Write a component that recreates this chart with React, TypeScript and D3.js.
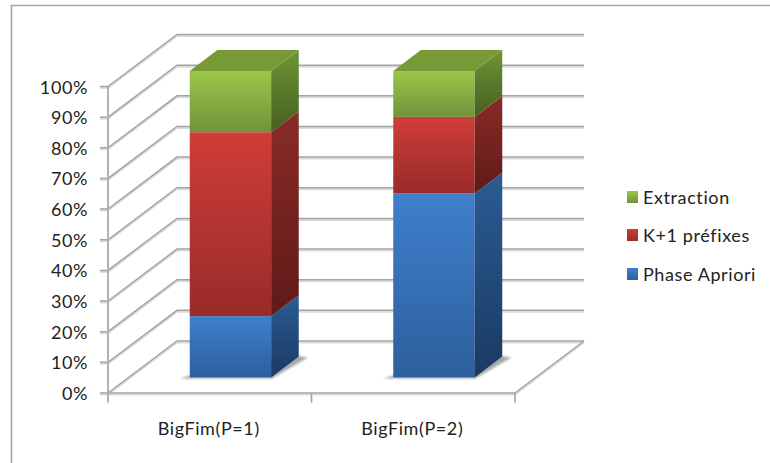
import React from "react";
import * as d3 from "d3";

const categories = ["BigFim(P=1)", "BigFim(P=2)"];
const seriesNames = ["Phase Apriori", "K+1 préfixes", "Extraction"];
const phaseApriori = [20, 60];
const prefixes = [60, 25];
const extraction = [20, 15];
const yTicks = [0, 10, 20, 30, 40, 50, 60, 70, 80, 90, 100];

const width = 770;
const height = 463;
const font = "Lato, 'Noto Sans', sans-serif";
const gridColor = "#a4a4a4";
const gridHalo = "#dcdcdc";

// Oblique projection: depth runs from the front plane (0) to the back wall (1).
const depthX = 69;
const depthY = 52;
const x = d3.scaleBand<string>().domain(categories).range([108, 515]).paddingInner(0.6).paddingOuter(0.3);
const y = d3.scaleLinear().domain([0, 100]).range([393, 86.5]);
const px = (v: number, depth: number) => v + depth * depthX;
const py = (pct: number, depth: number) => y(pct) - depth * depthY;

const barFront = 0.3;
const barBack = 0.7;

const faces = [
  { id: "apriori", front: ["#3f7fcd", "#2d5f9d"], side: ["#2a5c93", "#1a3a62"] },
  { id: "prefix", front: ["#d03d38", "#982b29"], side: ["#8a2b27", "#5f1a18"] },
  { id: "extract", front: ["#9cc64a", "#72933a"], side: ["#6e9436", "#465f21"] },
];
const topColor = "#779a37";

const stacks = categories.map((_, i) => {
  const a = phaseApriori[i];
  const b = a + prefixes[i];
  const c = b + extraction[i];
  return [
    [0, a],
    [a, b],
    [b, c],
  ];
});

const poly = (pts: [number, number][]) => d3.line()(pts) + "Z";

function GridLine({ d }: { d: string }) {
  return (
    <g fill="none">
      <path d={d} stroke={gridHalo} strokeWidth={2} transform="translate(0,1.5)" />
      <path d={d} stroke={gridColor} strokeWidth={1.5} />
    </g>
  );
}

function Bar({ name, index }: { name: string; index: number }) {
  const x0 = px(x(name)!, barFront);
  const x1 = x0 + x.bandwidth();
  const x2 = x1 + (barBack - barFront) * depthX;
  const rise = (barBack - barFront) * depthY;
  const segs = stacks[index];
  const top = segs[segs.length - 1][1];
  const yTop = py(top, barFront);
  const yBase = py(0, barFront);
  return (
    <g>
      <path
        d={poly([
          [x0 - 10, yBase + 1],
          [x1 + 1, yBase + 1],
          [x2 + 9, yBase - rise + 1],
          [x2 - 4, yBase - rise - 1],
          [x0, yBase - 2],
        ])}
        fill="#8a8a8a"
        opacity={0.75}
        filter="url(#soft)"
      />
      {segs.map(([lo, hi], s) => {
        const yLo = py(lo, barFront);
        const yHi = py(hi, barFront);
        return (
          <g key={s}>
            <rect x={x0} y={yHi} width={x1 - x0} height={yLo - yHi} fill={`url(#front-${faces[s].id})`} />
            <path
              d={poly([
                [x1, yHi],
                [x2, yHi - rise],
                [x2, yLo - rise],
                [x1, yLo],
              ])}
              fill={`url(#side-${faces[s].id})`}
            />
          </g>
        );
      })}
      <path
        d={poly([
          [x0, yTop],
          [x0 + (x2 - x1), yTop - rise],
          [x2, yTop - rise],
          [x1, yTop],
        ])}
        fill={topColor}
      />
    </g>
  );
}

export default function App() {
  const [xStart, xEnd] = x.range();
  const legend = [
    { label: seriesNames[2], face: faces[2], cy: 197 },
    { label: seriesNames[1], face: faces[1], cy: 235 },
    { label: seriesNames[0], face: faces[0], cy: 274 },
  ];
  const xTickPositions = [xStart, (xStart + xEnd) / 2, xEnd];

  return (
    <svg
      width={width}
      height={height}
      viewBox={`0 0 ${width} ${height}`}
      style={{ position: "absolute", left: 0, top: 0, display: "block", background: "#fff" }}
    >
      <defs>
        <filter id="soft" x="-20%" y="-50%" width="140%" height="200%">
          <feGaussianBlur stdDeviation="1" />
        </filter>
        {faces.map((f) => (
          <React.Fragment key={f.id}>
            <linearGradient id={`front-${f.id}`} x1="0" y1="0" x2="0" y2="1">
              <stop offset="0" stopColor={f.front[0]} />
              <stop offset="1" stopColor={f.front[1]} />
            </linearGradient>
            <linearGradient id={`side-${f.id}`} x1="0" y1="0" x2="0" y2="1">
              <stop offset="0" stopColor={f.side[0]} />
              <stop offset="1" stopColor={f.side[1]} />
            </linearGradient>
          </React.Fragment>
        ))}
      </defs>

      {/* outer chart frame */}
      <path d={`M11.5,${height} V5.5 H${width}`} fill="none" stroke="#a6a6a6" strokeWidth={1.6} />

      {/* back wall gridlines and the matching lines on the side wall */}
      {yTicks.map((t) => (
        <GridLine
          key={t}
          d={`M${xStart - 8},${y(t)} H${xStart} L${px(xStart, 1)},${py(t, 1)} H${px(xEnd, 1)}`}
        />
      ))}

      {/* floor and axes */}
      <GridLine d={`M${xStart},${y(100)} V${y(0) + 9}`} />
      <GridLine d={`M${xStart},${y(0)} H${xEnd} L${px(xEnd, 1)},${py(0, 1)}`} />
      {xTickPositions.map((v) => (
        <GridLine key={v} d={`M${v},${y(0)} V${y(0) + 9}`} />
      ))}

      {categories.map((c, i) => (
        <Bar key={c} name={c} index={i} />
      ))}

      <g fontFamily={font} fontSize={18} fill="#222">
        {yTicks.map((t) => (
          <text key={t} x={88} y={y(t)} textAnchor="end" dominantBaseline="central" letterSpacing={0.6}>
            {t}%
          </text>
        ))}
        {categories.map((c, i) => (
          <text
            key={c}
            x={x(c)! + x.bandwidth() / 2 - 1}
            y={428}
            textAnchor="middle"
            dominantBaseline="central"
            letterSpacing={0.6}
          >
            {c}
          </text>
        ))}
        {legend.map((l) => (
          <g key={l.label}>
            <rect x={627} y={l.cy - 6} width={11} height={12} fill={`url(#front-${l.face.id})`} />
            <text x={643} y={l.cy} dominantBaseline="central" letterSpacing={0.6}>
              {l.label}
            </text>
          </g>
        ))}
      </g>
    </svg>
  );
}
